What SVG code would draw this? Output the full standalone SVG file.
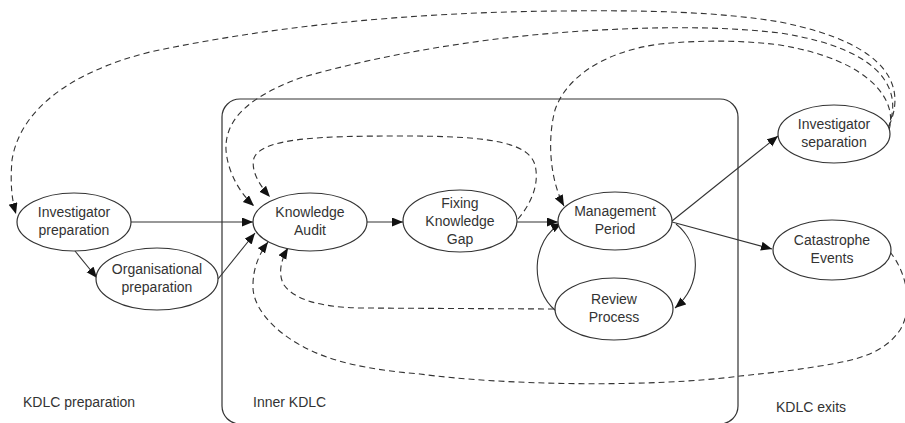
<svg xmlns="http://www.w3.org/2000/svg" width="905" height="423" viewBox="0 0 905 423">
<style>
.n ellipse{fill:#fff;stroke:#333;stroke-width:1.2}
text{font-family:"Liberation Sans",Arial,sans-serif;font-size:14px;fill:#333}
.c path{fill:none;stroke:#333;stroke-width:1.1;marker-end:url(#ah)}
.c path.d{stroke-dasharray:6 4}
.box{fill:none;stroke:#333;stroke-width:1.2}
</style>
<defs>
<marker id="ah" markerUnits="userSpaceOnUse" markerWidth="12" markerHeight="10" refX="11" refY="4.5" orient="auto">
<path d="M0,0 L11,4.5 L0,9 z" fill="#111"/>
</marker>
</defs>
<rect class="box" x="222" y="99" width="516" height="325" rx="18"/>
<text x="23" y="407">KDLC preparation</text>
<text x="253" y="407">Inner KDLC</text>
<text x="776" y="412">KDLC exits</text>
<g class="c" id="connectors">
<path d="M131,222 L253,222"/>
<path d="M75,251 L97,278"/>
<path d="M218,279 L255,233"/>
<path d="M367,222 L403,222"/>
<path d="M517,222 L558,222"/>
<path d="M672,221 L778,136"/>
<path d="M672,222 L772,249"/>
<path d="M676,224 C702,245 702,285 675,308"/>
<path d="M556,311 C530,290 530,240 562,223"/>
<path class="d" d="M518,219 C530,205 540,185 535,165 C528,140 480,136 400,136 C320,136 262,138 254,158 C250,172 262,188 270,197"/>
<path class="d" d="M554,309 L360,308 C320,307 295,300 284,285 C277,273 282,258 288,248"/>
<path class="d" d="M890,252 C905,270 915,305 900,330 C885,352 860,360 820,366 C790,371 760,374 740,376 C650,388 500,385 420,374 C370,370 330,362 300,345 C270,328 252,305 253,285 C253,265 262,250 268,242"/>
<path class="d" d="M889,126 C905,90 895,45 780,22 C720,12 650,10 560,11 C450,12 300,20 150,52 C70,72 20,110 12,160 C10,185 12,200 16,214"/>
<path class="d" d="M888,128 C902,95 890,50 780,33 C720,26 660,27 600,30 C500,35 390,52 300,78 C240,100 225,125 226,150 C228,175 242,195 254,206"/>
<path class="d" d="M889,130 C898,100 870,60 780,45 C740,40 700,40 660,44 C600,52 565,80 555,110 C547,140 550,180 564,206"/>
</g>
<g class="n" id="investigator-preparation"><ellipse cx="74" cy="222" rx="57" ry="29"/><text x="74" y="217" text-anchor="middle">Investigator</text><text x="74" y="235" text-anchor="middle">preparation</text></g>
<g class="n" id="organisational-preparation"><ellipse cx="157" cy="279" rx="61" ry="31"/><text x="157" y="274" text-anchor="middle">Organisational</text><text x="157" y="292" text-anchor="middle">preparation</text></g>
<g class="n" id="knowledge-audit"><ellipse cx="310" cy="222" rx="57" ry="29"/><text x="310" y="217" text-anchor="middle">Knowledge</text><text x="310" y="235" text-anchor="middle">Audit</text></g>
<g class="n" id="fixing-knowledge-gap"><ellipse cx="460" cy="221" rx="57" ry="31"/><text x="460" y="208" text-anchor="middle">Fixing</text><text x="460" y="226" text-anchor="middle">Knowledge</text><text x="460" y="244" text-anchor="middle">Gap</text></g>
<g class="n" id="management-period"><ellipse cx="615" cy="221" rx="57" ry="29"/><text x="615" y="216" text-anchor="middle">Management</text><text x="615" y="234" text-anchor="middle">Period</text></g>
<g class="n" id="review-process"><ellipse cx="614" cy="309" rx="59" ry="31"/><text x="614" y="304" text-anchor="middle">Review</text><text x="614" y="322" text-anchor="middle">Process</text></g>
<g class="n" id="investigator-separation"><ellipse cx="834" cy="134" rx="56" ry="29"/><text x="834" y="129" text-anchor="middle">Investigator</text><text x="834" y="147" text-anchor="middle">separation</text></g>
<g class="n" id="catastrophe-events"><ellipse cx="832" cy="250" rx="59" ry="30"/><text x="832" y="245" text-anchor="middle">Catastrophe</text><text x="832" y="263" text-anchor="middle">Events</text></g>
</svg>
